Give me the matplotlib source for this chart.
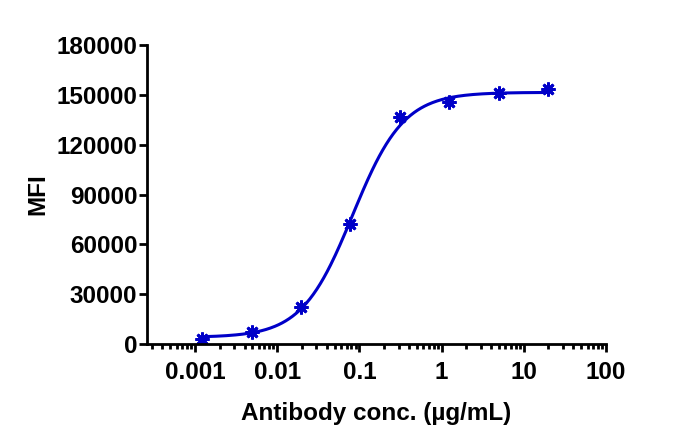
import numpy as np
import matplotlib.pyplot as plt

plt.rcParams['font.family'] = ['Liberation Sans', 'DejaVu Sans']
plt.rcParams['font.weight'] = 'bold'

# measured points (4-fold dilution series)
conc = [0.00122, 0.00488, 0.0195, 0.078, 0.3125, 1.25, 5, 20]
mfi = [3000, 7000, 22500, 72000, 136500, 145500, 151000, 153500]

# four-parameter logistic fit
bottom, top, ec50, hill = 4000, 151500, 0.083, 1.4

blue = '#0000C8'

fig = plt.figure(figsize=(6.83, 4.47), dpi=100)
ax = fig.add_axes([0.2152, 0.2304, 0.887 - 0.2152, 0.8993 - 0.2304])

xs = np.logspace(np.log10(conc[0]), np.log10(conc[-1]), 300)
ys = bottom + (top - bottom) / (1 + (ec50 / xs) ** hill)
ax.plot(xs, ys, color=blue, lw=2.2)
ax.plot(conc, mfi, ls='none', marker=(8, 2, 0), ms=10, mew=2,
        color=blue, mec=blue)

ax.set_xscale('log')
ax.set_xlim(10 ** -3.585, 100)
ax.set_ylim(0, 180000)
ax.set_xticks([0.001, 0.01, 0.1, 1, 10, 100])
ax.set_xticklabels(['0.001', '0.01', '0.1', '1', '10', '100'])
ax.set_yticks(np.arange(0, 180001, 30000))
ax.xaxis.set_minor_locator(plt.matplotlib.ticker.LogLocator(base=10, subs=np.arange(2, 10)))
ax.xaxis.set_minor_formatter(plt.NullFormatter())

for s in ['top', 'right']:
    ax.spines[s].set_visible(False)
for s in ['left', 'bottom']:
    ax.spines[s].set_linewidth(2)

ax.tick_params(axis='both', which='major', width=2, length=6, labelsize=17.5)
ax.tick_params(axis='y', which='major', pad=1)
ax.tick_params(axis='x', which='major', pad=6)
ax.tick_params(axis='x', which='minor', width=2, length=3.5)

ax.set_xlabel('Antibody conc. (µg/mL)', fontsize=17.5, fontweight='bold', labelpad=13)
ax.set_ylabel('MFI', fontsize=17.5, fontweight='bold', labelpad=5)

fig.savefig('out.png', dpi=100)
